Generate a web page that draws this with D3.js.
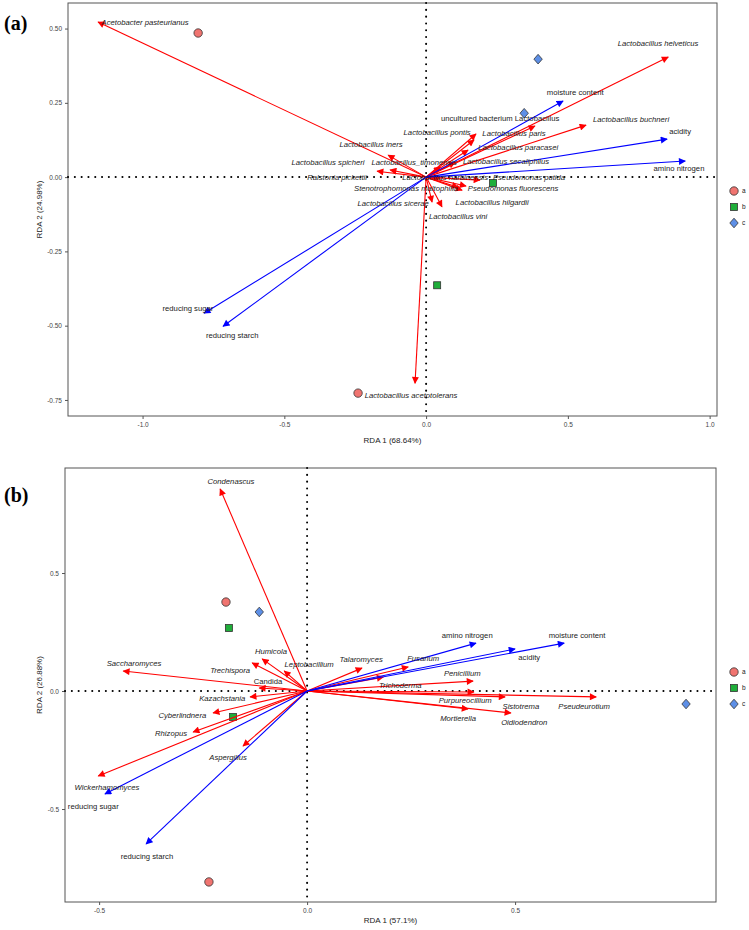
<!DOCTYPE html>
<html><head><meta charset="utf-8">
<script src="https://cdn.jsdelivr.net/npm/d3@7"></script>
<style>body{margin:0;background:#fff}svg{display:block}</style>
</head><body>
<svg id="c" width="749" height="930"></svg>
<script>
// ---------- DATA ----------
// Panel (a): species arrows [name, x, y, labelX, labelY, italic]
const speciesA = [
  ["Acetobacter pasteurianus",-1.157,0.522,-0.991,0.522,1],
  ["Lactobacillus helveticus",0.854,0.404,0.818,0.451,1],
  ["Lactobacillus buchneri",0.564,0.175,0.723,0.195,1],
  ["uncultured bacterium Lactobacillus",0.384,0.172,0.261,0.199,0],
  ["Lactobacillus pontis",0.169,0.125,0.039,0.152,1],
  ["Lactobacillus paris",0.176,0.145,0.310,0.148,1],
  ["Lactobacillus paracasei",0.148,0.091,0.325,0.101,1],
  ["Lactobacillus iners",-0.134,0.074,-0.194,0.111,1],
  ["Lactobacillus spicheri",-0.127,0.024,-0.346,0.051,1],
  ["Lactobacillus_timonensis",0.05,0.034,-0.042,0.051,1],
  ["Lactobacillus secaliphilus",0.102,0.05,0.282,0.054,1],
  ["Ralstonia pickettii",-0.173,0.02,-0.314,0.0,1],
  ["Lactobacillus harbinensis",0.05,-0.003,0.067,0.0,1],
  ["Pseudomonas putida",0.19,-0.01,0.363,0.0,1],
  ["Stenotrophomonas maltophilia",0.113,-0.034,-0.071,-0.037,1],
  ["Pseudomonas fluorescens",0.127,-0.044,0.307,-0.037,1],
  ["Lactobacillus hilgardii",0.141,-0.030,0.233,-0.084,1],
  ["Lactobacillus sicerae",0.021,-0.084,-0.116,-0.088,1],
  ["Lactobacillus vini",0.056,-0.10,0.113,-0.131,1],
  ["Lactobacillus acetotolerans",-0.039,-0.694,-0.053,-0.734,1]
];
// Panel (a): environmental arrows [name, x, y, labelX, labelY]
const envA = [
  ["moisture content",0.483,0.256,0.526,0.286],
  ["acidity",0.850,0.128,0.896,0.155],
  ["amino nitrogen",0.914,0.054,0.892,0.030],
  ["reducing sugar",-0.783,-0.458,-0.840,-0.441],
  ["reducing starch",-0.716,-0.502,-0.684,-0.532]
];
// Panel (a): samples [group, x, y]
const samplesA = [
  ["a",-0.804,0.485],["a",-0.240,-0.727],
  ["b",0.039,-0.364],["b",0.236,-0.020],
  ["c",0.395,0.397],["c",0.346,0.215]
];
// Panel (b)
const speciesB = [
  ["Condenascus",-0.209,0.856,-0.183,0.890,1],
  ["Saccharomyces",-0.442,0.085,-0.416,0.119,1],
  ["Humicola",-0.108,0.136,-0.087,0.169,1],
  ["Trechispora",-0.132,0.119,-0.185,0.089,1],
  ["Leptobacillium",-0.055,0.085,0.005,0.114,1],
  ["Candida",-0.115,0.013,-0.094,0.042,0],
  ["Kazachstania",-0.137,-0.025,-0.204,-0.030,1],
  ["Cyberlindnera",-0.226,-0.093,-0.300,-0.102,1],
  ["Rhizopus",-0.274,-0.174,-0.327,-0.178,1],
  ["Aspergillus",-0.154,-0.233,-0.190,-0.280,1],
  ["Wickerhamomyces",-0.502,-0.360,-0.481,-0.407,1],
  ["Talaromyces",0.132,0.097,0.130,0.136,1],
  ["Fusarium",0.243,0.102,0.279,0.140,1],
  ["Trichoderma",0.183,0.059,0.224,0.025,1],
  ["Penicillium",0.399,0.042,0.373,0.076,1],
  ["Purpureocillium",0.401,-0.004,0.380,-0.038,1],
  ["Sistotrema",0.476,-0.025,0.514,-0.064,1],
  ["Pseudeurotium",0.695,-0.025,0.666,-0.064,1],
  ["Mortierella",0.387,-0.076,0.363,-0.114,1],
  ["Oidiodendron",0.490,-0.093,0.522,-0.131,1]
];
const envB = [
  ["amino nitrogen",0.406,0.203,0.385,0.237],
  ["moisture content",0.618,0.203,0.649,0.237],
  ["acidity",0.500,0.178,0.534,0.144],
  ["reducing sugar",-0.486,-0.436,-0.514,-0.487],
  ["reducing starch",-0.387,-0.648,-0.385,-0.699]
];
const samplesB = [
  ["a",-0.195,0.377],["a",-0.236,-0.809],
  ["b",-0.188,0.267],["b",-0.178,-0.110],
  ["c",-0.115,0.335],["c",0.911,-0.055]
];
const groups = ["a","b","c"];
const xTicksA = [-1.0,-0.5,0.0,0.5,1.0], yTicksA = [-0.75,-0.50,-0.25,0.00,0.25,0.50];
const xTicksB = [-0.5,0.0,0.5], yTicksB = [-0.5,0.0,0.5];

// ---------- DRAW ----------
const svg = d3.select("#c");
const defs = svg.append("defs");
[["red","#ff0000"],["blue","#0000ff"]].forEach(([id,col])=>{
  defs.append("marker").attr("id","ah-"+id).attr("viewBox","0 0 10 10")
    .attr("refX",9).attr("refY",5).attr("markerWidth",8).attr("markerHeight",7)
    .attr("markerUnits","userSpaceOnUse").attr("orient","auto")
    .append("path").attr("d","M0,0 L10,5 L0,10 Z").attr("fill",col);
});
const fillCol = {a:"#f07470", b:"#1fae3a", c:"#5d8fe6"};
function shape(g, grp, cx, cy){
  if(grp==="a") g.append("circle").attr("cx",cx).attr("cy",cy).attr("r",4.2);
  else if(grp==="b") g.append("rect").attr("x",cx-3.5).attr("y",cy-3.5).attr("width",7).attr("height",7);
  else g.append("path").attr("d",`M${cx},${cy-4.8}L${cx+4.2},${cy}L${cx},${cy+4.8}L${cx-4.2},${cy}Z`);
  g.selectAll("*").attr("fill",fillCol[grp]).attr("stroke","#333").attr("stroke-width",0.8);
}
function panel(o){
  const x = d3.scaleLinear().domain(o.xd).range([o.L,o.R]);
  const y = d3.scaleLinear().domain(o.yd).range([o.B,o.T]);
  const g = svg.append("g");
  // axes
  const fmtX = v=>d3.format(o.fx)(v).replace("−","-");
  const fmtY = v=>d3.format(o.fy)(v).replace("−","-");
  const ax = g.append("g").attr("transform",`translate(0,${o.B})`)
    .call(d3.axisBottom(x).tickValues(o.xt).tickFormat(fmtX).tickSize(3).tickSizeOuter(0));
  const ay = g.append("g").attr("transform",`translate(${o.L},0)`)
    .call(d3.axisLeft(y).tickValues(o.yt).tickFormat(fmtY).tickSize(3).tickSizeOuter(0));
  [ax,ay].forEach(a=>{a.select(".domain").remove();
    a.selectAll("line").attr("stroke","#555");
    a.selectAll("text").attr("fill","#444").attr("font-size",6.5).attr("font-family","Liberation Sans, Arial, sans-serif");});
  g.append("rect").attr("x",o.L).attr("y",o.T).attr("width",o.R-o.L).attr("height",o.B-o.T)
    .attr("fill","none").attr("stroke","#555").attr("stroke-width",1);
  // dotted zero lines
  const dot = {stroke:"#000","stroke-width":2,"stroke-dasharray":"0.1,6.7","stroke-linecap":"round"};
  const h = g.append("line").attr("x1",o.L).attr("x2",o.R).attr("y1",y(0)).attr("y2",y(0));
  const v = g.append("line").attr("x1",x(0)).attr("x2",x(0)).attr("y1",o.T).attr("y2",o.B);
  [h,v].forEach(l=>Object.entries(dot).forEach(([k,val])=>l.attr(k,val)));
  // samples
  o.samples.forEach(s=>shape(g.append("g"),s[0],x(s[1]),y(s[2])));
  // arrows
  const arrow = (d,col,id)=>g.append("line").attr("x1",x(0)).attr("y1",y(0)).attr("x2",x(d[1])).attr("y2",y(d[2]))
    .attr("stroke",col).attr("stroke-width",1.1).attr("marker-end",`url(#ah-${id})`);
  o.sp.forEach(d=>arrow(d,"#ff0000","red"));
  o.env.forEach(d=>arrow(d,"#0000ff","blue"));
  // labels
  const lab = (d,it)=>g.append("text").attr("x",x(d[3])).attr("y",y(d[4])).attr("dy","0.35em")
    .attr("text-anchor","middle").attr("font-size",7.7).attr("fill","#222")
    .attr("font-style",it?"italic":"normal").attr("font-family","Liberation Sans, Arial, sans-serif").text(d[0]);
  o.sp.forEach(d=>lab(d,d[5]));
  o.env.forEach(d=>lab(d,0));
  // axis titles
  g.append("text").attr("x",(o.L+o.R)/2).attr("y",o.xtY).attr("text-anchor","middle")
    .attr("font-size",8).attr("fill","#222").attr("font-family","Liberation Sans, Arial, sans-serif").text(o.xl);
  g.append("text").attr("transform",`translate(42,${(o.T+o.B)/2}) rotate(-90)`).attr("text-anchor","middle")
    .attr("font-size",8).attr("fill","#222").attr("font-family","Liberation Sans, Arial, sans-serif").text(o.yl);
  // legend
  groups.forEach((gr,i)=>{
    shape(g.append("g"),gr,734,o.legY+i*16);
    g.append("text").attr("x",742).attr("y",o.legY+i*16).attr("dy","0.35em").attr("font-size",6.5)
      .attr("fill","#222").attr("font-family","Liberation Sans, Arial, sans-serif").text(gr);
  });
  // panel tag
  g.append("text").attr("x",4).attr("y",o.tagY).attr("font-size",20).attr("font-weight","bold")
    .attr("font-family","Liberation Serif, Times New Roman, serif").text(o.tag);
}
panel({xd:[-1.263,1.026],yd:[-0.804,0.586],L:68,R:717,T:3,B:416,xt:xTicksA,yt:yTicksA,fx:".1f",fy:".2f",
  sp:speciesA,env:envA,samples:samplesA,xl:"RDA 1 (68.64%)",yl:"RDA 2 (24.98%)",xtY:443,legY:191,tag:"(a)",tagY:30});
panel({xd:[-0.582,0.983],yd:[-0.894,0.945],L:65,R:716,T:468,B:902,xt:xTicksB,yt:yTicksB,fx:".1f",fy:".1f",
  sp:speciesB,env:envB,samples:samplesB,xl:"RDA 1 (57.1%)",yl:"RDA 2 (26.88%)",xtY:923,legY:672,tag:"(b)",tagY:502});
</script>
</body></html>
